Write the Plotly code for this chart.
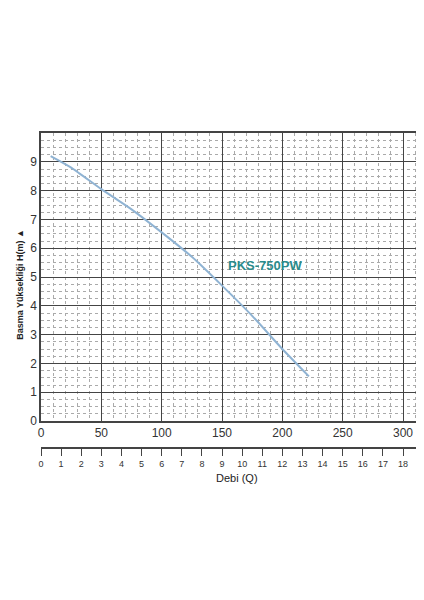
import plotly.graph_objects as go

debi = [8, 25, 50, 75, 100, 125, 150, 175, 200, 222]
basma = [9.2, 8.8, 8.05, 7.35, 6.55, 5.7, 4.7, 3.65, 2.5, 1.55]
y_ticks = list(range(0, 10))
q_ticks = list(range(0, 20))

fig = go.Figure()
fig.add_trace(go.Scatter(x=debi, y=basma, mode="lines", line=dict(color="#8fb3d3", width=2, shape="spline", smoothing=0.6)))
fig.add_trace(go.Scatter(x=[0], y=[None], xaxis="x2", showlegend=False))

fig.add_annotation(x=186, y=5.4, text="<b>PKS-750PW</b>", showarrow=False,
                   font=dict(color="#2b8c8c", size=13))
fig.add_annotation(x=0.5, y=-0.12, xref="paper", yref="paper", text="Debi (Q)", showarrow=False,
                   font=dict(size=11, color="#222"))
fig.add_annotation(x=-0.07, y=0.52, xref="paper", yref="paper", text="<b>Basma Yüksekliği H(m) ▲</b>",
                   textangle=-90, showarrow=False, font=dict(size=9, color="#222"))

grid_minor = dict(showgrid=True, gridcolor="#aaaaaa", griddash="dot", gridwidth=1)
fig.update_layout(
    width=424, height=600, showlegend=False,
    plot_bgcolor="white", paper_bgcolor="white",
    margin=dict(l=33, r=0, t=125, b=160, autoexpand=False),
    font=dict(family="Liberation Sans, Arial", color="#333"),
    xaxis=dict(range=[0, 324], dtick=50, tick0=0, gridcolor="#444", gridwidth=1.2, automargin=False,
               showline=True, linecolor="#444", linewidth=1.5, mirror=True, zeroline=False,
               tickfont=dict(size=12), minor=dict(dtick=10, **grid_minor), anchor="y"),
    yaxis=dict(range=[0, 10], domain=[0.0857, 1], tickvals=y_ticks, gridcolor="#444", gridwidth=1.2,
               showline=True, linecolor="#444", linewidth=1.5, mirror=True, zeroline=False, automargin=False,
               tickfont=dict(size=12), minor=dict(dtick=0.25, **grid_minor)),
    xaxis2=dict(range=[0, 324 * 3 / 50], tickvals=q_ticks, anchor="free", position=0, automargin=False,
                overlaying="x", side="bottom", showline=True, linecolor="#444", linewidth=1.5,
                ticks="outside", ticklen=7, tickcolor="#444", showgrid=False, zeroline=False,
                tickfont=dict(size=9)),
)
fig.write_html("out.html")
